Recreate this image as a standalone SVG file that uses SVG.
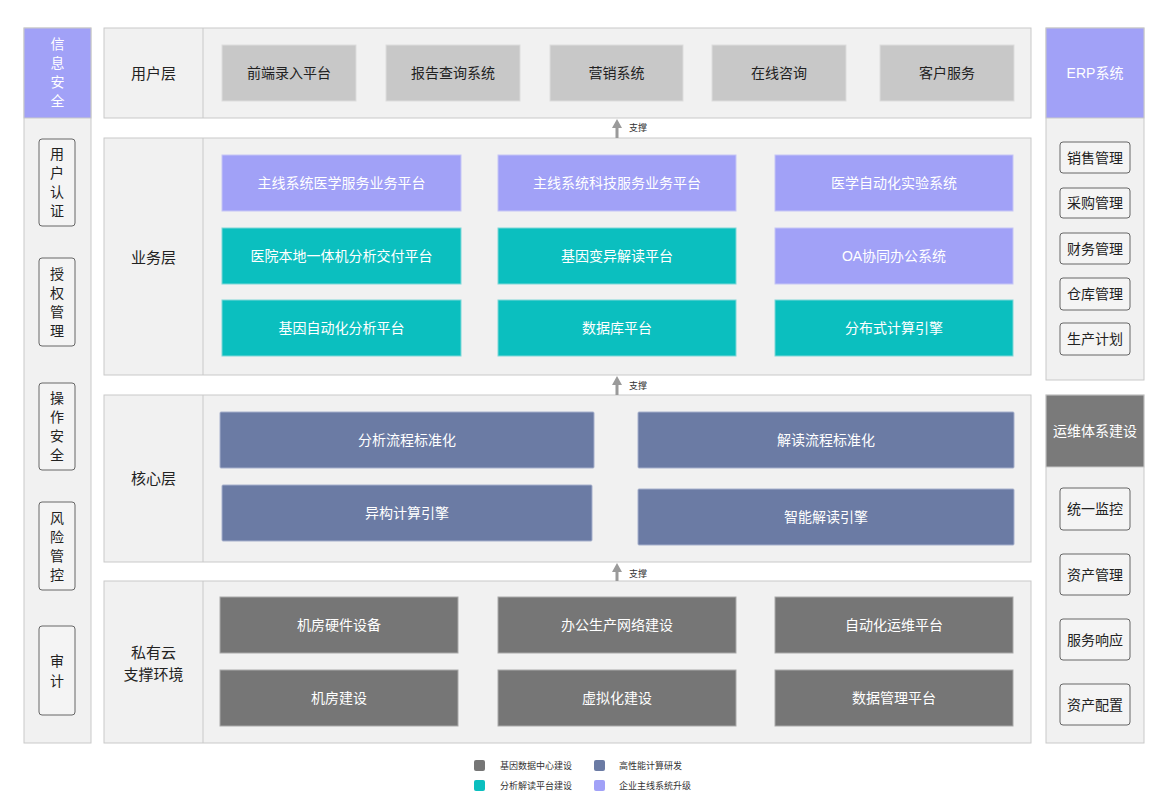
<svg xmlns="http://www.w3.org/2000/svg" width="1158" height="807" viewBox="0 0 1158 807">
<style>
text{font-family:"Liberation Sans","Noto Sans CJK SC",sans-serif;text-anchor:middle;dominant-baseline:central}
.panel{fill:#f1f1f1;stroke:#c9c9c9;stroke-width:1}
.lbl{font-size:15px;fill:#222}
.wt{font-size:14px;fill:#fff}
.bt{font-size:14px;fill:#222}
.pur{fill:#a1a1f7;stroke:#c6c6f5}
.teal{fill:#0bbfbf;stroke:#7fd8d8}
.core{fill:#6b7ba4;stroke:#a6b0cc}
.dg{fill:#767676;stroke:#aaa}
.lg{fill:#c8c8c8;stroke:#ddd}
.sb{fill:#f4f4f4;stroke:#666;stroke-width:1}
.small{font-size:9px;fill:#333}
.lt{font-size:9px;fill:#333;text-anchor:start}
.arr{fill:#9a9a9a}
</style>

<g id="security">
<rect class="panel" x="24" y="28" width="67" height="715"/>
<rect x="24" y="28" width="67" height="90" fill="#a1a1f7" stroke="#c9c9c9"/>
<text class="wt" x="57.5" y="44">信</text><text class="wt" x="57.5" y="63">息</text><text class="wt" x="57.5" y="82">安</text><text class="wt" x="57.5" y="101">全</text>
<g id="sec-auth"><rect class="sb" x="39" y="139" width="36" height="87" rx="3"/><text class="bt" x="57" y="154">用</text><text class="bt" x="57" y="173">户</text><text class="bt" x="57" y="192">认</text><text class="bt" x="57" y="211">证</text></g>
<g id="sec-perm"><rect class="sb" x="39" y="258" width="36" height="88" rx="3"/><text class="bt" x="57" y="274">授</text><text class="bt" x="57" y="293">权</text><text class="bt" x="57" y="312">管</text><text class="bt" x="57" y="331">理</text></g>
<g id="sec-op"><rect class="sb" x="39" y="383" width="36" height="87" rx="3"/><text class="bt" x="57" y="398">操</text><text class="bt" x="57" y="417">作</text><text class="bt" x="57" y="436">安</text><text class="bt" x="57" y="455">全</text></g>
<g id="sec-risk"><rect class="sb" x="39" y="502" width="36" height="88" rx="3"/><text class="bt" x="57" y="518">风</text><text class="bt" x="57" y="537">险</text><text class="bt" x="57" y="556">管</text><text class="bt" x="57" y="575">控</text></g>
<g id="sec-audit"><rect class="sb" x="39" y="626" width="36" height="89" rx="3"/><text class="bt" x="57" y="661">审</text><text class="bt" x="57" y="681">计</text></g>
</g>

<g id="layer-user">
<rect class="panel" x="104" y="28" width="927" height="90"/>
<line x1="203" y1="28" x2="203" y2="118" stroke="#c9c9c9"/>
<text class="lbl" x="153.5" y="73">用户层</text>
<g id="u1"><rect class="lg" x="222" y="45" width="134" height="56"/><text class="bt" x="289" y="73">前端录入平台</text></g>
<g id="u2"><rect class="lg" x="386" y="45" width="134" height="56"/><text class="bt" x="453" y="73">报告查询系统</text></g>
<g id="u3"><rect class="lg" x="550" y="45" width="133" height="56"/><text class="bt" x="616.5" y="73">营销系统</text></g>
<g id="u4"><rect class="lg" x="712" y="45" width="134" height="56"/><text class="bt" x="779" y="73">在线咨询</text></g>
<g id="u5"><rect class="lg" x="880" y="45" width="134" height="56"/><text class="bt" x="947" y="73">客户服务</text></g>
</g>

<g id="layer-biz">
<rect class="panel" x="104" y="138" width="927" height="237"/>
<line x1="203" y1="138" x2="203" y2="375" stroke="#c9c9c9"/>
<text class="lbl" x="153.5" y="257">业务层</text>
<g id="b1"><rect class="pur" x="222" y="155" width="239" height="56"/><text class="wt" x="341.5" y="183">主线系统医学服务业务平台</text></g>
<g id="b2"><rect class="pur" x="498" y="155" width="238" height="56"/><text class="wt" x="617" y="183">主线系统科技服务业务平台</text></g>
<g id="b3"><rect class="pur" x="775" y="155" width="238" height="56"/><text class="wt" x="894" y="183">医学自动化实验系统</text></g>
<g id="b4"><rect class="teal" x="222" y="228" width="239" height="56"/><text class="wt" x="341.5" y="256">医院本地一体机分析交付平台</text></g>
<g id="b5"><rect class="teal" x="498" y="228" width="238" height="56"/><text class="wt" x="617" y="256">基因变异解读平台</text></g>
<g id="b6"><rect class="pur" x="775" y="228" width="238" height="56"/><text class="wt" x="894" y="256">OA协同办公系统</text></g>
<g id="b7"><rect class="teal" x="222" y="300" width="239" height="56"/><text class="wt" x="341.5" y="328">基因自动化分析平台</text></g>
<g id="b8"><rect class="teal" x="498" y="300" width="238" height="56"/><text class="wt" x="617" y="328">数据库平台</text></g>
<g id="b9"><rect class="teal" x="775" y="300" width="238" height="56"/><text class="wt" x="894" y="328">分布式计算引擎</text></g>
</g>

<g id="layer-core">
<rect class="panel" x="104" y="395" width="927" height="167"/>
<line x1="203" y1="395" x2="203" y2="562" stroke="#c9c9c9"/>
<text class="lbl" x="153.5" y="478">核心层</text>
<g id="c1"><rect class="core" x="220" y="412" width="374" height="56" rx="1"/><text class="wt" x="407" y="440">分析流程标准化</text></g>
<g id="c2"><rect class="core" x="638" y="412" width="376" height="56" rx="1"/><text class="wt" x="826" y="440">解读流程标准化</text></g>
<g id="c3"><rect class="core" x="222" y="485" width="370" height="56" rx="1"/><text class="wt" x="407" y="513">异构计算引擎</text></g>
<g id="c4"><rect class="core" x="638" y="489" width="376" height="56" rx="1"/><text class="wt" x="826" y="517">智能解读引擎</text></g>
</g>

<g id="layer-cloud">
<rect class="panel" x="104" y="581" width="927" height="162"/>
<line x1="203" y1="581" x2="203" y2="743" stroke="#c9c9c9"/>
<text class="lbl" x="153.5" y="652">私有云</text>
<text class="lbl" x="153.5" y="674">支撑环境</text>
<g id="p1"><rect class="dg" x="220" y="597" width="238" height="56"/><text class="wt" x="339" y="625">机房硬件设备</text></g>
<g id="p2"><rect class="dg" x="498" y="597" width="238" height="56"/><text class="wt" x="617" y="625">办公生产网络建设</text></g>
<g id="p3"><rect class="dg" x="775" y="597" width="238" height="56"/><text class="wt" x="894" y="625">自动化运维平台</text></g>
<g id="p4"><rect class="dg" x="220" y="670" width="238" height="56"/><text class="wt" x="339" y="698">机房建设</text></g>
<g id="p5"><rect class="dg" x="498" y="670" width="238" height="56"/><text class="wt" x="617" y="698">虚拟化建设</text></g>
<g id="p6"><rect class="dg" x="775" y="670" width="238" height="56"/><text class="wt" x="894" y="698">数据管理平台</text></g>
</g>

<g id="connectors">
<path class="arr" d="M617,119 L622,128 L618.5,128 L618.5,138 L615.5,138 L615.5,128 L612,128 Z"/>
<text class="small" x="638" y="128">支撑</text>
<path class="arr" d="M617,376 L622,385 L618.5,385 L618.5,395 L615.5,395 L615.5,385 L612,385 Z"/>
<text class="small" x="638" y="386">支撑</text>
<path class="arr" d="M617,563 L622,572 L618.5,572 L618.5,581 L615.5,581 L615.5,572 L612,572 Z"/>
<text class="small" x="638" y="574">支撑</text>
</g>

<g id="erp">
<rect class="panel" x="1046" y="28" width="98" height="352"/>
<rect x="1046" y="28" width="98" height="90" fill="#a1a1f7" stroke="#c9c9c9"/>
<text class="wt" x="1095" y="73">ERP系统</text>
<g id="e1"><rect class="sb" x="1060" y="142" width="70" height="31" rx="3"/><text class="bt" x="1095" y="157.5">销售管理</text></g>
<g id="e2"><rect class="sb" x="1060" y="188" width="70" height="30" rx="3"/><text class="bt" x="1095" y="203">采购管理</text></g>
<g id="e3"><rect class="sb" x="1060" y="233" width="70" height="31" rx="3"/><text class="bt" x="1095" y="248.5">财务管理</text></g>
<g id="e4"><rect class="sb" x="1060" y="278" width="70" height="32" rx="3"/><text class="bt" x="1095" y="294">仓库管理</text></g>
<g id="e5"><rect class="sb" x="1060" y="323" width="70" height="32" rx="3"/><text class="bt" x="1095" y="339">生产计划</text></g>
</g>

<g id="ops">
<rect class="panel" x="1046" y="395" width="98" height="348"/>
<rect x="1046" y="395" width="98" height="72" fill="#7a7a7a" stroke="#c9c9c9"/>
<text class="wt" x="1095" y="431">运维体系建设</text>
<g id="o1"><rect class="sb" x="1060" y="488" width="70" height="42" rx="3"/><text class="bt" x="1095" y="509">统一监控</text></g>
<g id="o2"><rect class="sb" x="1060" y="554" width="70" height="41" rx="3"/><text class="bt" x="1095" y="574.5">资产管理</text></g>
<g id="o3"><rect class="sb" x="1060" y="619" width="70" height="41" rx="3"/><text class="bt" x="1095" y="639.5">服务响应</text></g>
<g id="o4"><rect class="sb" x="1060" y="684" width="70" height="41" rx="3"/><text class="bt" x="1095" y="704.5">资产配置</text></g>
</g>

<g id="legend">
<rect x="474" y="760" width="11" height="11" rx="2" fill="#767676"/><text class="lt" x="500" y="765.5">基因数据中心建设</text>
<rect x="594" y="760" width="11" height="11" rx="2" fill="#6b7ba4"/><text class="lt" x="619" y="765.5">高性能计算研发</text>
<rect x="474" y="780" width="11" height="11" rx="2" fill="#0bbfbf"/><text class="lt" x="500" y="785.5">分析解读平台建设</text>
<rect x="594" y="780" width="11" height="11" rx="2" fill="#a1a1f7"/><text class="lt" x="619" y="785.5">企业主线系统升级</text>
</g>
</svg>
